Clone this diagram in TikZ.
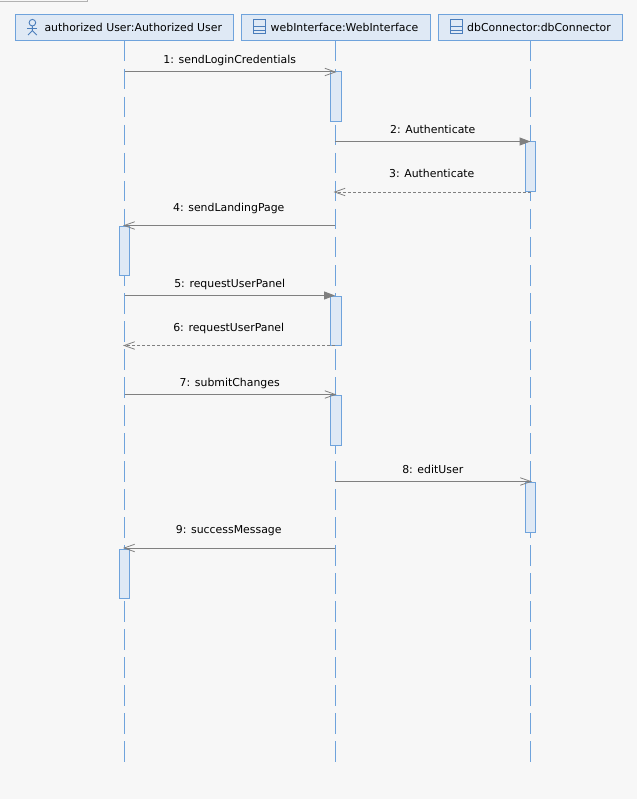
\documentclass[tikz,border=0pt]{standalone}
\usepackage{fontspec}
\setmainfont{DejaVu Sans}
\usetikzlibrary{arrows.meta, positioning}
\definecolor{pagebg}{HTML}{F7F7F7}
\definecolor{umlfill}{HTML}{DFE9F5}
\definecolor{umlline}{HTML}{6FA3DC}
\definecolor{umlicon}{HTML}{4A7DBB}
\definecolor{msgline}{HTML}{808080}
\begin{document}
\begin{tikzpicture}[
    x=1pt, y=-1pt,
    head/.style={draw=umlline, fill=umlfill, line width=1pt, minimum height=26.5pt,
        inner sep=0pt, font=\fontsize{10.9}{13}\selectfont,
        execute at begin node=\hspace*{17.5pt}},
    lifeline/.style={draw=umlline, line width=1pt, dash pattern=on 20.5pt off 7.5pt},
    activation/.style={draw=umlline, fill=umlfill, line width=1pt, minimum width=10.5pt,
        minimum height=49.5pt, inner sep=0pt},
    msg/.style={draw=msgline, line width=1pt, shorten >=-1.5pt,
        -{Straight Barb[length=10.5pt,width=7.5pt,line width=.8pt]}},
    sync/.style={draw=msgline, line width=1pt, -{Triangle[length=11pt,width=8pt,fill=msgline]}},
    ret/.style={draw=msgline, line width=.8pt, dash pattern=on 3pt off 2pt, shorten >=-1.5pt,
        -{Straight Barb[length=10.5pt,width=7.5pt,line width=.8pt]}},
    msglabel/.style={font=\fontsize{10.9}{13}\selectfont, anchor=base, yshift=8.4pt, inner sep=0pt},
    retlabel/.style={msglabel, yshift=6pt, xshift=-1pt},
    icon/.style={draw=umlicon, line width=.9pt},
    classicon/.pic={
        \draw[icon] (0,0) rectangle (12.5,14);
        \draw[icon] (0,7.5) -- (12.5,7.5);
        \draw[icon] (0,10.8) -- (12.5,10.8);
    }]
    \useasboundingbox (0,0) rectangle (637,799);
    \fill[pagebg] (0,0) rectangle (637,799);
    \draw[black!30, line width=.8pt] (0,1.3) -- (87.3,1.3) -- (87.3,0);

    \node[head, minimum width=218pt] (userHead) at (124.5,27.75) {authorized User:Authorized User};
    \node[head, minimum width=189.5pt] (webHead) at (335.75,27.75) {webInterface:WebInterface};
    \node[head, minimum width=184.5pt] (dbHead) at (530.25,27.75) {dbConnector:dbConnector};

    \coordinate (userEnd) at (124.5,761.5);
    \coordinate (webEnd) at (335,761.5);
    \coordinate (dbEnd) at (530.5,761.5);
    \draw[lifeline] (124.5,41) -- (userEnd);
    \draw[lifeline] (335,41) -- (webEnd);
    \draw[lifeline] (530.5,41) -- (dbEnd);

    % icons
    \draw[icon] (32.4,22.7) circle (3.3);
    \draw[icon] (32.4,26) -- (32.4,30.7) -- (28,35);
    \draw[icon] (32.4,30.7) -- (36.8,35);
    \draw[icon] (27.3,28) -- (37.4,28);
    \pic at (253.4,19.3) {classicon};
    \pic at (450.2,19.3) {classicon};

    \node[activation, minimum width=11pt] (actA) at (335.75,96.75) {};
    \node[activation] (actB) at (530.5,166.5) {};
    \node[activation] (actC) at (124.5,251) {};
    \node[activation, minimum width=11pt] (actD) at (336,320.75) {};
    \node[activation, minimum width=11pt] (actE) at (335.75,420.25) {};
    \node[activation] (actF) at (530.5,507.25) {};
    \node[activation] (actG) at (124.5,574) {};

    \coordinate (m1a) at (124.5,72);    \coordinate (m1b) at (335,72);
    \coordinate (m2a) at (335,141.5);   \coordinate (m2b) at (530.5,141.5);
    \coordinate (m3a) at (530.5,192);   \coordinate (m3b) at (335,192);
    \coordinate (m4a) at (335,225.5);   \coordinate (m4b) at (124.5,225.5);
    \coordinate (m5a) at (124.5,295.5); \coordinate (m5b) at (335,295.5);
    \coordinate (m6a) at (335,345.5);   \coordinate (m6b) at (124.5,345.5);
    \coordinate (m7a) at (124.5,394.5); \coordinate (m7b) at (335,394.5);
    \coordinate (m8a) at (335,481.5);   \coordinate (m8b) at (530.5,481.5);
    \coordinate (m9a) at (335,548);     \coordinate (m9b) at (124.5,548);

    \draw[msg] (m1a) -- node[msglabel] (lab1) {1: sendLoginCredentials} (m1b);
    \draw[sync] (m2a) -- node[msglabel] (lab2) {2: Authenticate} (m2b);
    \draw[ret] (m3a) -- node[retlabel] (lab3) {3: Authenticate} (m3b);
    \draw[msg] (m4a) -- node[retlabel] (lab4) {4: sendLandingPage} (m4b);
    \draw[sync] (m5a) -- node[msglabel] (lab5) {5: requestUserPanel} (m5b);
    \draw[ret] (m6a) -- node[retlabel] (lab6) {6: requestUserPanel} (m6b);
    \draw[msg] (m7a) -- node[msglabel] (lab7) {7: submitChanges} (m7b);
    \draw[msg] (m8a) -- node[msglabel] (lab8) {8: editUser} (m8b);
    \draw[msg] (m9a) -- node[retlabel] (lab9) {9: successMessage} (m9b);
\end{tikzpicture}
\end{document}
